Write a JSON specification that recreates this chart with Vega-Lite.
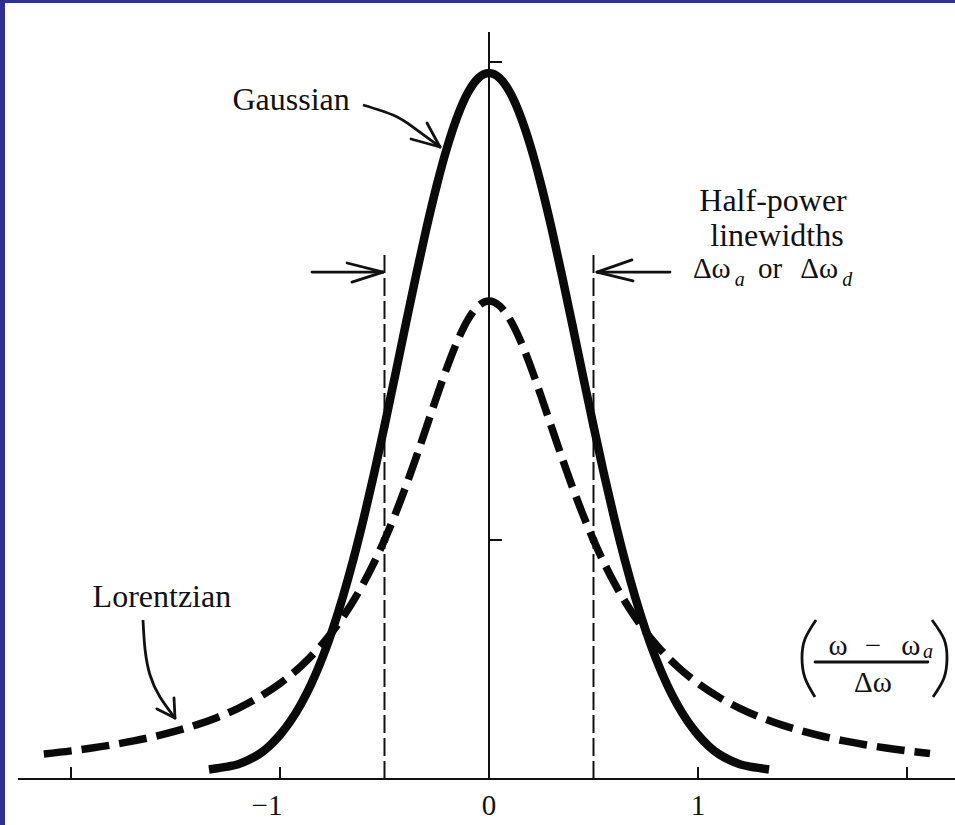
{
  "$schema": "https://vega.github.io/schema/vega-lite/v6.json",
  "width": 950,
  "height": 822,
  "autosize": {"type": "none"},
  "padding": {"left": 5, "top": 3, "right": 0, "bottom": 0},
  "background": "#2f318f",
  "config": {"view": {"fill": "white", "stroke": null}},
  "datasets": {
    "curves": [
      {"curve": "Gaussian", "x": -1.34, "y": 0.040},
      {"curve": "Gaussian", "x": -1.3, "y": 0.045},
      {"curve": "Gaussian", "x": -1.25, "y": 0.052},
      {"curve": "Gaussian", "x": -1.2, "y": 0.062},
      {"curve": "Gaussian", "x": -1.15, "y": 0.080},
      {"curve": "Gaussian", "x": -1.1, "y": 0.104},
      {"curve": "Gaussian", "x": -1.05, "y": 0.139},
      {"curve": "Gaussian", "x": -1.0, "y": 0.1846},
      {"curve": "Gaussian", "x": -0.95, "y": 0.2419},
      {"curve": "Gaussian", "x": -0.9, "y": 0.3127},
      {"curve": "Gaussian", "x": -0.85, "y": 0.3985},
      {"curve": "Gaussian", "x": -0.8, "y": 0.5009},
      {"curve": "Gaussian", "x": -0.75, "y": 0.621},
      {"curve": "Gaussian", "x": -0.7, "y": 0.7593},
      {"curve": "Gaussian", "x": -0.65, "y": 0.9155},
      {"curve": "Gaussian", "x": -0.6, "y": 1.0888},
      {"curve": "Gaussian", "x": -0.55, "y": 1.2769},
      {"curve": "Gaussian", "x": -0.5, "y": 1.477},
      {"curve": "Gaussian", "x": -0.45, "y": 1.6849},
      {"curve": "Gaussian", "x": -0.4, "y": 1.8956},
      {"curve": "Gaussian", "x": -0.35, "y": 2.1034},
      {"curve": "Gaussian", "x": -0.3, "y": 2.3016},
      {"curve": "Gaussian", "x": -0.25, "y": 2.484},
      {"curve": "Gaussian", "x": -0.2, "y": 2.6439},
      {"curve": "Gaussian", "x": -0.15, "y": 2.7753},
      {"curve": "Gaussian", "x": -0.1, "y": 2.8732},
      {"curve": "Gaussian", "x": -0.05, "y": 2.9336},
      {"curve": "Gaussian", "x": 0, "y": 2.954},
      {"curve": "Gaussian", "x": 0.05, "y": 2.9336},
      {"curve": "Gaussian", "x": 0.1, "y": 2.8732},
      {"curve": "Gaussian", "x": 0.15, "y": 2.7753},
      {"curve": "Gaussian", "x": 0.2, "y": 2.6439},
      {"curve": "Gaussian", "x": 0.25, "y": 2.484},
      {"curve": "Gaussian", "x": 0.3, "y": 2.3016},
      {"curve": "Gaussian", "x": 0.35, "y": 2.1034},
      {"curve": "Gaussian", "x": 0.4, "y": 1.8956},
      {"curve": "Gaussian", "x": 0.45, "y": 1.6849},
      {"curve": "Gaussian", "x": 0.5, "y": 1.477},
      {"curve": "Gaussian", "x": 0.55, "y": 1.2769},
      {"curve": "Gaussian", "x": 0.6, "y": 1.0888},
      {"curve": "Gaussian", "x": 0.65, "y": 0.9155},
      {"curve": "Gaussian", "x": 0.7, "y": 0.7593},
      {"curve": "Gaussian", "x": 0.75, "y": 0.621},
      {"curve": "Gaussian", "x": 0.8, "y": 0.5009},
      {"curve": "Gaussian", "x": 0.85, "y": 0.3985},
      {"curve": "Gaussian", "x": 0.9, "y": 0.3127},
      {"curve": "Gaussian", "x": 0.95, "y": 0.2419},
      {"curve": "Gaussian", "x": 1.0, "y": 0.1846},
      {"curve": "Gaussian", "x": 1.05, "y": 0.139},
      {"curve": "Gaussian", "x": 1.1, "y": 0.104},
      {"curve": "Gaussian", "x": 1.15, "y": 0.080},
      {"curve": "Gaussian", "x": 1.2, "y": 0.062},
      {"curve": "Gaussian", "x": 1.25, "y": 0.052},
      {"curve": "Gaussian", "x": 1.3, "y": 0.045},
      {"curve": "Gaussian", "x": 1.34, "y": 0.040},
      {"curve": "Lorentzian", "x": -2.13, "y": 0.1045},
      {"curve": "Lorentzian", "x": -2.0, "y": 0.1176},
      {"curve": "Lorentzian", "x": -1.9, "y": 0.1295},
      {"curve": "Lorentzian", "x": -1.8, "y": 0.1433},
      {"curve": "Lorentzian", "x": -1.7, "y": 0.1592},
      {"curve": "Lorentzian", "x": -1.6, "y": 0.1779},
      {"curve": "Lorentzian", "x": -1.5, "y": 0.2},
      {"curve": "Lorentzian", "x": -1.4, "y": 0.2262},
      {"curve": "Lorentzian", "x": -1.3, "y": 0.2577},
      {"curve": "Lorentzian", "x": -1.2, "y": 0.2959},
      {"curve": "Lorentzian", "x": -1.1, "y": 0.3425},
      {"curve": "Lorentzian", "x": -1.0, "y": 0.4},
      {"curve": "Lorentzian", "x": -0.9, "y": 0.4717},
      {"curve": "Lorentzian", "x": -0.8, "y": 0.5618},
      {"curve": "Lorentzian", "x": -0.7, "y": 0.6757},
      {"curve": "Lorentzian", "x": -0.6, "y": 0.8197},
      {"curve": "Lorentzian", "x": -0.5, "y": 1.0},
      {"curve": "Lorentzian", "x": -0.45, "y": 1.105},
      {"curve": "Lorentzian", "x": -0.4, "y": 1.2195},
      {"curve": "Lorentzian", "x": -0.35, "y": 1.3423},
      {"curve": "Lorentzian", "x": -0.3, "y": 1.4706},
      {"curve": "Lorentzian", "x": -0.25, "y": 1.6},
      {"curve": "Lorentzian", "x": -0.2, "y": 1.7241},
      {"curve": "Lorentzian", "x": -0.15, "y": 1.8349},
      {"curve": "Lorentzian", "x": -0.1, "y": 1.9231},
      {"curve": "Lorentzian", "x": -0.05, "y": 1.9802},
      {"curve": "Lorentzian", "x": 0, "y": 2.0},
      {"curve": "Lorentzian", "x": 0.05, "y": 1.9802},
      {"curve": "Lorentzian", "x": 0.1, "y": 1.9231},
      {"curve": "Lorentzian", "x": 0.15, "y": 1.8349},
      {"curve": "Lorentzian", "x": 0.2, "y": 1.7241},
      {"curve": "Lorentzian", "x": 0.25, "y": 1.6},
      {"curve": "Lorentzian", "x": 0.3, "y": 1.4706},
      {"curve": "Lorentzian", "x": 0.35, "y": 1.3423},
      {"curve": "Lorentzian", "x": 0.4, "y": 1.2195},
      {"curve": "Lorentzian", "x": 0.45, "y": 1.105},
      {"curve": "Lorentzian", "x": 0.5, "y": 1.0},
      {"curve": "Lorentzian", "x": 0.6, "y": 0.8197},
      {"curve": "Lorentzian", "x": 0.7, "y": 0.6757},
      {"curve": "Lorentzian", "x": 0.8, "y": 0.5618},
      {"curve": "Lorentzian", "x": 0.9, "y": 0.4717},
      {"curve": "Lorentzian", "x": 1.0, "y": 0.4},
      {"curve": "Lorentzian", "x": 1.1, "y": 0.3425},
      {"curve": "Lorentzian", "x": 1.2, "y": 0.2959},
      {"curve": "Lorentzian", "x": 1.3, "y": 0.2577},
      {"curve": "Lorentzian", "x": 1.4, "y": 0.2262},
      {"curve": "Lorentzian", "x": 1.5, "y": 0.2},
      {"curve": "Lorentzian", "x": 1.6, "y": 0.1779},
      {"curve": "Lorentzian", "x": 1.7, "y": 0.1592},
      {"curve": "Lorentzian", "x": 1.8, "y": 0.1433},
      {"curve": "Lorentzian", "x": 1.9, "y": 0.1295},
      {"curve": "Lorentzian", "x": 2.0, "y": 0.1176},
      {"curve": "Lorentzian", "x": 2.11, "y": 0.1063}
    ],
    "axes": [
      {"x": -2.254, "y": 0, "x2": 2.23, "y2": 0},
      {"x": 0, "y": 0, "x2": 0, "y2": 3.1255},
      {"x": -2, "y": 0, "x2": -2, "y2": 0.05},
      {"x": -1, "y": 0, "x2": -1, "y2": 0.05},
      {"x": 1, "y": 0, "x2": 1, "y2": 0.05},
      {"x": 2, "y": 0, "x2": 2, "y2": 0.05},
      {"x": 0, "y": 1, "x2": 0.062, "y2": 1},
      {"x": 0, "y": 3, "x2": 0.062, "y2": 3}
    ],
    "halfpower": [
      {"x": -0.5, "y": 0, "x2": -0.5, "y2": 2.192},
      {"x": 0.5, "y": 0, "x2": 0.5, "y2": 2.192}
    ],
    "marks": [
      {"x": -0.5, "y": 1.477},
      {"x": 0.5, "y": 1.477},
      {"x": -0.5, "y": 1.0},
      {"x": 0.5, "y": 1.0}
    ],
    "arrowsegs": [
      {"x": -0.847, "y": 2.121, "x2": -0.507, "y2": 2.121},
      {"x": -0.507, "y": 2.121, "x2": -0.679, "y2": 2.159},
      {"x": -0.507, "y": 2.121, "x2": -0.656, "y2": 2.079},
      {"x": 0.517, "y": 2.121, "x2": 0.866, "y2": 2.121},
      {"x": 0.517, "y": 2.121, "x2": 0.684, "y2": 2.172},
      {"x": 0.517, "y": 2.121, "x2": 0.689, "y2": 2.084},
      {"x": -0.2344, "y": 2.6444, "x2": -0.2967, "y2": 2.7448},
      {"x": -0.2344, "y": 2.6444, "x2": -0.3732, "y2": 2.6778},
      {"x": -1.5024, "y": 0.2552, "x2": -1.5072, "y2": 0.3389},
      {"x": -1.5024, "y": 0.2552, "x2": -1.5885, "y2": 0.2929},
      {"x": 1.56, "y": 0.4895, "x2": 2.1, "y2": 0.4895}
    ],
    "strokes": [
      {"id": "g", "o": 1, "x": -0.6029, "y": 2.8201},
      {"id": "g", "o": 2, "x": -0.4593, "y": 2.7782},
      {"id": "g", "o": 3, "x": -0.3636, "y": 2.728},
      {"id": "g", "o": 4, "x": -0.2344, "y": 2.6444},
      {"id": "l", "o": 1, "x": -1.6555, "y": 0.6653},
      {"id": "l", "o": 2, "x": -1.6459, "y": 0.5439},
      {"id": "l", "o": 3, "x": -1.622, "y": 0.4351},
      {"id": "l", "o": 4, "x": -1.5742, "y": 0.3431},
      {"id": "l", "o": 5, "x": -1.5024, "y": 0.2552},
      {"id": "pl", "o": 1, "x": 1.5646, "y": 0.6653},
      {"id": "pl", "o": 2, "x": 1.512, "y": 0.5858},
      {"id": "pl", "o": 3, "x": 1.4976, "y": 0.5063},
      {"id": "pl", "o": 4, "x": 1.512, "y": 0.4226},
      {"id": "pl", "o": 5, "x": 1.5598, "y": 0.3431},
      {"id": "pr", "o": 1, "x": 2.1196, "y": 0.6653},
      {"id": "pr", "o": 2, "x": 2.177, "y": 0.5858},
      {"id": "pr", "o": 3, "x": 2.1914, "y": 0.5063},
      {"id": "pr", "o": 4, "x": 2.177, "y": 0.4226},
      {"id": "pr", "o": 5, "x": 2.1244, "y": 0.3431}
    ],
    "labels": [
      {"x": -0.947, "y": 2.799, "t": "Gaussian"},
      {"x": -1.565, "y": 0.72, "t": "Lorentzian"},
      {"x": 1.359, "y": 2.377, "t": "Half-power"},
      {"x": 1.378, "y": 2.232, "t": "linewidths"}
    ],
    "math": [
      {"x": 1.066, "y": 2.096, "t": "Δω"},
      {"x": 1.345, "y": 2.096, "t": "or"},
      {"x": 1.58, "y": 2.096, "t": "Δω"},
      {"x": 1.6699, "y": 0.5188, "t": "ω"},
      {"x": 1.837, "y": 0.5188, "t": "−"},
      {"x": 2.018, "y": 0.5188, "t": "ω"},
      {"x": 1.837, "y": 0.364, "t": "Δω"}
    ],
    "subs": [
      {"x": 1.2, "y": 2.063, "t": "a"},
      {"x": 1.714, "y": 2.063, "t": "d"},
      {"x": 2.1, "y": 0.5063, "t": "a"}
    ],
    "ticklabels": [
      {"x": -1.062, "y": -0.1506, "t": "−1"},
      {"x": 0, "y": -0.1506, "t": "0"},
      {"x": 1.0, "y": -0.1506, "t": "1"}
    ]
  },
  "encoding": {
    "x": {"field": "x", "type": "quantitative", "scale": {"domain": [-2.3158, 2.2297], "nice": false, "zero": false}, "axis": null},
    "y": {"field": "y", "type": "quantitative", "scale": {"domain": [-0.1925, 3.2469], "nice": false, "zero": false}, "axis": null}
  },
  "layer": [
    {
      "data": {"name": "axes"},
      "mark": {"type": "rule", "color": "#111111", "strokeWidth": 2},
      "encoding": {"x2": {"field": "x2"}, "y2": {"field": "y2"}}
    },
    {
      "data": {"name": "halfpower"},
      "mark": {"type": "rule", "color": "#111111", "strokeWidth": 2, "strokeDash": [18, 5]},
      "encoding": {"x2": {"field": "x2"}, "y2": {"field": "y2"}}
    },
    {
      "data": {"name": "curves"},
      "transform": [{"filter": "datum.curve === 'Gaussian'"}],
      "mark": {"type": "line", "color": "#0a0a0a", "strokeWidth": 8.5, "strokeCap": "butt", "interpolate": "monotone"},
      "encoding": {}
    },
    {
      "data": {"name": "curves"},
      "transform": [{"filter": "datum.curve === 'Lorentzian'"}],
      "mark": {"type": "line", "color": "#0a0a0a", "strokeWidth": 7.5, "strokeCap": "butt", "strokeDash": [28, 10], "interpolate": "monotone"},
      "encoding": {}
    },
    {
      "data": {"name": "marks"},
      "mark": {"type": "point", "filled": true, "color": "#0a0a0a", "size": 60, "opacity": 1},
      "encoding": {}
    },
    {
      "data": {"name": "arrowsegs"},
      "mark": {"type": "rule", "color": "#111111", "strokeWidth": 2.8, "strokeCap": "round"},
      "encoding": {"x2": {"field": "x2"}, "y2": {"field": "y2"}}
    },
    {
      "data": {"name": "strokes"},
      "mark": {"type": "line", "color": "#111111", "strokeWidth": 2.8, "interpolate": "natural"},
      "encoding": {"detail": {"field": "id"}, "order": {"field": "o", "type": "quantitative"}}
    },
    {
      "data": {"name": "labels"},
      "mark": {"type": "text", "font": "Liberation Serif", "fontSize": 32, "color": "#111111", "align": "center", "baseline": "alphabetic"},
      "encoding": {"text": {"field": "t"}}
    },
    {
      "data": {"name": "math"},
      "mark": {"type": "text", "font": "Liberation Serif", "fontSize": 29, "color": "#111111", "align": "center", "baseline": "alphabetic"},
      "encoding": {"text": {"field": "t"}}
    },
    {
      "data": {"name": "subs"},
      "mark": {"type": "text", "font": "Liberation Serif", "fontSize": 20, "fontStyle": "italic", "color": "#111111", "align": "center", "baseline": "alphabetic"},
      "encoding": {"text": {"field": "t"}}
    },
    {
      "data": {"name": "ticklabels"},
      "mark": {"type": "text", "font": "Liberation Serif", "fontSize": 29, "color": "#111111", "align": "center", "baseline": "alphabetic"},
      "encoding": {"text": {"field": "t"}}
    }
  ]
}
